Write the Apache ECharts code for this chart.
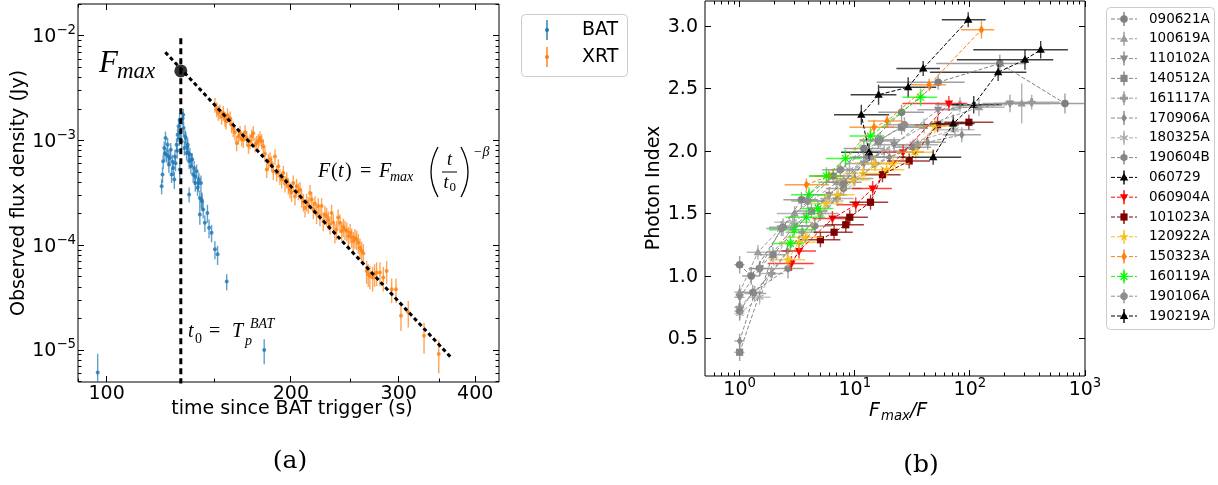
<!DOCTYPE html>
<html><head><meta charset="utf-8">
<script src="https://cdn.jsdelivr.net/npm/echarts@6/dist/echarts.min.js"></script>
<style>html,body{margin:0;padding:0;background:#fff}#c{width:1218px;height:485px}</style>
</head><body><div id="c"></div><script>
// ---------------- LEFT PANEL DATA: [time (s), flux (Jy), flux error] ----------------
const batData = [
[96.7,6.1e-6,3.1e-6],[123.0,3.67e-4,6e-5],[123.4,4.74e-4,8e-5],[123.7,6.35e-4,1.0e-4],[124.2,8.5e-4,1.3e-4],
[124.5,7.6e-4,1.2e-4],[124.8,1.06e-3,1.6e-4],[125.3,7.36e-4,1.2e-4],[125.8,9.16e-4,1.4e-4],[126.1,7.07e-4,1.1e-4],
[126.4,5.9e-4,1.0e-4],[126.9,6.84e-4,1.1e-4],[127.3,8.2e-4,1.3e-4],[127.7,4.74e-4,8e-5],[128.1,6.3e-4,1.0e-4],
[128.5,5.49e-4,9e-5],[129.0,4.25e-4,8e-5],[129.3,7.07e-4,1.1e-4],[129.6,6.1e-4,1.0e-4],[130.1,9.16e-4,1.4e-4],
[130.4,8.0e-4,1.3e-4],[130.6,1.14e-3,1.7e-4],[131.1,1.37e-3,2.0e-4],[131.4,1.05e-3,1.6e-4],[131.6,1.58e-3,2.3e-4],
[131.7,5.3e-4,9e-5],[132.1,1.23e-3,1.8e-4],[132.6,9.86e-4,1.5e-4],[133.1,1.64e-3,2.4e-4],[133.4,1.77e-3,2.5e-4],
[133.6,1.32e-3,2.0e-4],[134.0,8.5e-4,1.3e-4],[134.3,1.1e-3,1.6e-4],[134.7,1.06e-3,1.6e-4],[135.1,7.64e-4,1.2e-4],
[135.4,8.8e-4,1.3e-4],[135.7,9.16e-4,1.4e-4],[136.0,7.64e-4,1.2e-4],[136.4,6.35e-4,1.0e-4],[136.4,3.06e-4,5e-5],
[136.8,7.36e-4,1.2e-4],[137.3,5.69e-4,9e-5],[137.6,6.6e-4,1.0e-4],[138.0,6.6e-4,1.0e-4],[138.5,4.74e-4,8e-5],
[139.0,5.49e-4,9e-5],[139.4,4.57e-4,8e-5],[139.6,3.95e-4,7e-5],[140.3,5.1e-4,8e-5],[140.8,3.55e-4,6e-5],
[141.2,3.95e-4,7e-5],[141.5,4.25e-4,7e-5],[142.0,2.84e-4,5e-5],[142.0,1.97e-4,4e-5],[142.6,3.95e-4,7e-5],
[142.9,2.74e-4,5e-5],[143.2,2.64e-4,5e-5],[143.8,2.2e-4,4e-5],[144.7,1.64e-4,3e-5],[146.1,2.04e-4,4e-5],
[147.0,1.47e-4,3e-5],[148.4,1.32e-4,2.5e-5],[150.3,9.16e-5,1.8e-5],[151.8,8.2e-5,1.7e-5],[157.1,4.51e-5,8e-6],
[180.9,1.0e-5,2.7e-6]
];
const xrtData = [
[150.3,2.2e-3,3.5e-4],[151.3,2.0e-3,3.2e-4],[152.2,1.85e-3,3e-4],[153.1,1.9e-3,3e-4],[154.1,1.7e-3,2.8e-4],
[155.1,1.84e-3,3e-4],[156.1,1.62e-3,2.6e-4],[156.7,1.53e-3,2.5e-4],[157.6,1.75e-3,2.8e-4],[159.1,1.64e-3,2.6e-4],
[160.0,1.42e-3,2.4e-4],[161.0,1.3e-3,2.2e-4],[162.0,1.2e-3,2e-4],[163.1,9.5e-4,1.6e-4],[164.2,1.1e-3,1.8e-4],
[165.2,1.18e-3,2e-4],[166.2,1.05e-3,1.7e-4],[167.2,1.02e-3,1.7e-4],[168.3,1.2e-3,2e-4],[169.4,1.06e-3,1.7e-4],
[170.5,9.0e-4,1.5e-4],[171.5,9.85e-4,1.6e-4],[172.6,1.1e-3,1.8e-4],[173.6,1.18e-3,1.9e-4],[174.8,9.2e-4,1.5e-4],
[175.9,9.5e-4,1.6e-4],[177.0,1.0e-3,1.6e-4],[178.1,1.06e-3,1.7e-4],[179.2,9.86e-4,1.6e-4],[180.3,8.83e-4,1.5e-4],
[181.4,7.5e-4,1.3e-4],[182.6,5.3e-4,9e-5],[183.7,6.3e-4,1.1e-4],[184.9,6.6e-4,1.1e-4],[186.0,6.1e-4,1.0e-4],
[187.2,5.1e-4,9e-5],[188.4,7.07e-4,1.2e-4],[189.6,4.9e-4,8.5e-5],[190.8,5.69e-4,9.5e-5],[191.9,4.57e-4,8e-5],
[193.2,4.25e-4,7.5e-5],[194.4,4.9e-4,8.5e-5],[195.6,3.9e-4,7e-5],[196.9,4.25e-4,7.5e-5],[198.1,3.7e-4,6.5e-5],
[199.3,3.41e-4,6e-5],[200.5,3.2e-4,6e-5],[201.8,3.95e-4,7e-5],[203.1,2.95e-4,5.5e-5],[204.3,3.67e-4,6.5e-5],
[205.7,3.3e-4,6e-5],[207.0,3.41e-4,6e-5],[208.3,2.84e-4,5.5e-5],[209.6,2.6e-4,5e-5],[210.9,2.29e-4,4.5e-5],
[212.2,2.6e-4,5e-5],[213.6,2.45e-4,4.5e-5],[214.9,3.17e-4,6e-5],[216.3,2.74e-4,5e-5],[217.6,2.2e-4,4.2e-5],
[219.0,2.5e-4,4.5e-5],[220.3,2.0e-4,4e-5],[221.7,2.37e-4,4.5e-5],[223.1,1.9e-4,3.8e-5],[224.5,2.37e-4,4.5e-5],
[225.9,1.71e-4,3.5e-5],[227.3,1.97e-4,4e-5],[228.8,1.9e-4,3.8e-5],[230.2,1.75e-4,3.5e-5],[231.7,1.58e-4,3.2e-5],
[233.1,2.04e-4,4e-5],[234.6,1.64e-4,3.3e-5],[236.0,1.32e-4,2.8e-5],[237.5,1.42e-4,3e-5],[238.9,1.84e-4,3.6e-5],
[240.6,1.64e-4,3.3e-5],[242.1,1.37e-4,2.8e-5],[243.6,1.5e-4,3e-5],[245.1,1.42e-4,3e-5],[246.8,1.37e-4,2.8e-5],
[248.3,1.23e-4,2.6e-5],[249.9,1.32e-4,2.8e-5],[251.4,1.2e-4,2.5e-5],[252.9,1.1e-4,2.4e-5],[254.5,1.18e-4,2.5e-5],
[256.1,1.14e-4,2.4e-5],[257.7,1.06e-4,2.3e-5],[259.3,9.5e-5,2.1e-5],[260.9,8.86e-5,2e-5],[262.6,8.4e-5,1.9e-5],
[265.9,5.69e-5,1.4e-5],[267.5,5.3e-5,1.3e-5],[269.2,5.1e-5,1.3e-5],[272.0,4.92e-5,1.3e-5],[274.0,5.3e-5,1.3e-5],
[276.1,5.49e-5,1.4e-5],[279.6,5.49e-5,1.4e-5],[283.1,4.92e-5,1.3e-5],[286.7,5.69e-5,1.4e-5],[292.2,3.81e-5,1.0e-5],
[297.0,3.81e-5,1.0e-5],[302.6,2.12e-5,6e-6],[311.0,2.29e-5,6.5e-6],[330.0,1.37e-5,4.5e-6],[348.8,9.16e-6,3.2e-6]
];
const fmaxPoint = [[132.2, 4.64e-3]];
const t0Line = [[132.2, 9.5e-3], [132.2, 4.0e-6]];
const fitLine = [[124.7, 7.0e-3], [366.3, 8.34e-6]];
const leftXTicks = [100, 200, 300, 400];
const leftXTickLabels = ['100', '200', '300', '400'];
const leftXMinorTicks = [90, 150, 250, 350];
const leftYTicks = [1e-5, 1e-4, 1e-3, 1e-2];
const leftYTickExp = ['\u22125', '\u22124', '\u22123', '\u22122'];

// ---------------- RIGHT PANEL DATA: [Fmax/F, photon index, x low, x high, index error] ----------------
const d090621A = [[1.0,1.09,0.9,1.1,0.07],[1.26,1.00,1.05,1.5,0.07],[2.38,1.39,1.8,3.1,0.07],[3.44,1.61,2.4,4.8,0.06],[6.5,1.80,4.5,9.5,0.06],[12,2.02,8,18,0.06],[25.5,2.31,16,40,0.06],[53,2.55,15.5,90,0.06],[182,2.70,51,310,0.07],[670,2.38,400,1100,0.08]];
const d100619A = [[1.0,0.87,0.9,1.1,0.06],[1.44,1.19,1.15,1.8,0.06],[3.0,1.50,2.1,4.3,0.06],[7.0,1.75,4.8,10,0.06],[14,1.95,9.5,21,0.06],[40,2.20,26,62,0.06],[120,2.35,70,200,0.07],[282,2.38,160,500,0.16]];
const d110102A = [[1.0,0.83,0.9,1.1,0.06],[1.5,1.06,1.2,1.9,0.06],[3.0,1.40,2.1,4.2,0.06],[6.0,1.65,4.2,8.6,0.06],[12,1.90,8.2,17.5,0.06],[22,2.05,15,32,0.06],[53,2.33,35,80,0.06],[223,2.38,130,400,0.07]];
const d140512A = [[1.0,0.39,0.9,1.1,0.07],[1.95,1.17,1.5,2.5,0.06],[4.2,1.52,3.0,5.8,0.06],[8.0,1.75,5.5,11.5,0.06],[16,2.08,11,23,0.06],[25.5,2.19,17,38,0.06]];
const d161117A = [[1.0,0.75,0.9,1.1,0.06],[1.89,1.02,1.5,2.4,0.06],[3.5,1.35,2.5,4.9,0.06],[7.0,1.62,5.0,9.8,0.06],[15,1.90,10,22,0.06],[35,2.05,23,53,0.06],[82,2.37,50,135,0.06],[344,2.39,200,600,0.06]];
const d170906A = [[1.0,0.48,0.9,1.1,0.06],[1.35,0.86,1.1,1.7,0.06],[2.6,1.20,1.9,3.5,0.06],[5.0,1.50,3.5,7.2,0.06],[10,1.78,7,14.5,0.06],[20,1.95,14,29,0.06],[43,2.07,30,62,0.06],[85,2.13,58,125,0.06]];
const d180325A = [[1.0,0.70,0.9,1.1,0.06],[1.49,0.83,1.2,1.85,0.06],[2.9,1.43,2.0,4.2,0.06],[5.5,1.60,3.8,8.0,0.06],[9.0,1.85,6.2,13,0.06],[18,2.00,12.5,26,0.06],[74,2.17,50,110,0.06]];
const d190604B = [[1.0,0.72,0.9,1.1,0.07],[1.3,0.87,1.05,1.6,0.06],[2.63,1.06,1.9,3.6,0.08],[4.5,1.40,3.2,6.3,0.06],[8.0,1.70,5.6,11.5,0.06],[13,1.95,9,19,0.06],[32,2.03,22,46,0.06]];
const d060729 = [[13.3,1.99,7.6,17.1,0.07],[11.4,2.29,6.6,19.9,0.08],[16.1,2.45,9.2,23,0.08],[29.1,2.51,16.3,51,0.08],[39.3,2.66,23,55,0.06],[96.7,3.05,57,137,0.06]];
const d060904A = [[2.82,1.10,1.75,4.4,0.06],[3.28,1.20,2.3,4.6,0.06],[6.4,1.46,4.3,9.3,0.06],[10.2,1.57,7.0,14.5,0.06],[14.3,1.70,9.5,21,0.06],[26.3,1.99,17,40,0.06],[65.7,2.38,26,95,0.06]];
const d101023A = [[5.03,1.29,3.3,7.5,0.06],[6.61,1.35,4.4,9.6,0.06],[8.35,1.41,5.5,12,0.06],[9.05,1.47,6.2,13,0.06],[13.7,1.59,9.0,19.5,0.06],[17.4,1.81,11.5,25,0.06],[29.7,1.92,19,45,0.06],[52.4,2.21,33,80,0.06],[98,2.23,60,160,0.06]];
const d120922A = [[2.63,1.13,1.8,3.7,0.06],[3.28,1.27,2.2,4.6,0.06],[3.75,1.31,2.5,5.3,0.06],[5.6,1.58,3.8,7.9,0.06],[7.16,1.65,4.9,10,0.06],[9.68,1.77,6.5,13.5,0.06],[11.8,1.82,8.0,16.5,0.06],[14.9,1.90,10,21,0.06],[18.9,1.85,12.5,27,0.06],[21.5,1.90,14.5,30,0.06],[33.9,1.99,23,48,0.06],[49.6,2.20,33,70,0.06]];
const d150323A = [[3.80,1.73,2.46,5.98,0.05],[5.94,1.80,4.0,8.0,0.05],[14.7,2.19,9.0,22,0.06],[19.1,2.24,13,26,0.05],[44.3,2.53,30,62,0.05],[126,2.97,83.5,163,0.07]];
const d160119A = [[2.76,1.26,1.9,3.6,0.06],[2.97,1.37,1.8,4.6,0.06],[3.80,1.47,2.5,5.5,0.06],[4.8,1.54,3.4,6.5,0.06],[4.0,1.65,2.8,5.6,0.06],[5.67,1.80,4.0,7.8,0.07],[8.3,1.94,5.6,11.5,0.07],[13.7,2.12,9.0,18,0.07],[37.3,2.43,26,52,0.07]];
const d190106A = [[1.49,1.06,1.2,1.85,0.06],[2.3,1.38,1.7,3.1,0.06],[3.9,1.60,2.8,5.4,0.06],[7.5,1.85,5.2,10.8,0.06],[16.6,2.09,11,25,0.06],[27,2.21,18,40,0.06]];
const d190219A = [[48,1.95,25,84,0.06],[71.6,2.22,45,110,0.07],[108,2.37,69,190,0.07],[176,2.63,45,310,0.07],[301,2.73,77,530,0.08],[412,2.81,107,710,0.07]];

const grbNames = ['090621A','100619A','110102A','140512A','161117A','170906A','180325A','190604B','060729','060904A','101023A','120922A','150323A','160119A','190106A','190219A'];
const grbSets = [d090621A,d100619A,d110102A,d140512A,d161117A,d170906A,d180325A,d190604B,d060729,d060904A,d101023A,d120922A,d150323A,d160119A,d190106A,d190219A];
const rightXTicks = [1, 10, 100, 1000];
const rightXTickExp = ['0', '1', '2', '3'];
const rightYTicks = [0.5, 1.0, 1.5, 2.0, 2.5, 3.0];
const rightYTickLabels = ['0.5', '1.0', '1.5', '2.0', '2.5', '3.0'];

// ---------------- STYLES ----------------
const grbColors = ['#7f7f7f','#9b9b9b','#8c8c8c','#868686','#999999','#8a8a8a','#ababab','#858585','#000000','#ff0000','#800000','#f5c21b','#ff7f0e','#00ff00','#8e8e8e','#000000'];
const grbMarkers = ['o','^','v','s','P','d','x6','h','^','v','s','*','d','a8','8','^'];
const LX = [89.8, 437.5], LY = [4.95e-6, 0.0202];
const RX = [0.5, 1000], RY = [0.2, 3.2];
const FONT = '"DejaVu Sans"';
const SERIF = '"Liberation Serif"';
const FS = 19, SUP = 13.3;

function markerEls(m, cx, cy, s, color) {
  const f = {fill: color};
  const r = s / 2;
  const poly = pts => ({type: 'polygon', shape: {points: pts}, style: f});
  const ln = (a, L) => ({type: 'line', shape: {x1: cx - Math.cos(a) * L, y1: cy - Math.sin(a) * L, x2: cx + Math.cos(a) * L, y2: cy + Math.sin(a) * L}, style: {stroke: color, lineWidth: 1.3}});
  const reg = (n, R, off) => { const p = []; for (let i = 0; i < n; i++) { const a = off + i * 2 * Math.PI / n; p.push([cx + R * Math.cos(a), cy + R * Math.sin(a)]); } return p; };
  switch (m) {
    case 'o': return [{type: 'circle', shape: {cx, cy, r: r * 0.95}, style: f}];
    case '^': return [poly([[cx, cy - r * 1.1], [cx - r * 1.05, cy + r * 0.75], [cx + r * 1.05, cy + r * 0.75]])];
    case 'v': return [poly([[cx, cy + r * 1.1], [cx - r * 1.05, cy - r * 0.75], [cx + r * 1.05, cy - r * 0.75]])];
    case 's': return [{type: 'rect', shape: {x: cx - r * 0.9, y: cy - r * 0.9, width: r * 1.8, height: r * 1.8}, style: f}];
    case 'd': return [poly([[cx, cy - r * 1.15], [cx + r * 0.7, cy], [cx, cy + r * 1.15], [cx - r * 0.7, cy]])];
    case 'h': return [poly(reg(6, r * 1.0, -Math.PI / 2))];
    case '8': return [poly(reg(8, r * 1.0, Math.PI / 8))];
    case 'P': { const w = r * 0.38, L = r * 1.0; return [poly([[cx - w, cy - L], [cx + w, cy - L], [cx + w, cy - w], [cx + L, cy - w], [cx + L, cy + w], [cx + w, cy + w], [cx + w, cy + L], [cx - w, cy + L], [cx - w, cy + w], [cx - L, cy + w], [cx - L, cy - w], [cx - w, cy - w]])]; }
    case '*': { const p = []; for (let i = 0; i < 10; i++) { const a = -Math.PI / 2 + i * Math.PI / 5; const R = i % 2 ? r * 0.5 : r * 1.25; p.push([cx + R * Math.cos(a), cy + R * Math.sin(a)]); } return [poly(p)]; }
    case 'x6': return [ln(Math.PI / 2, r * 1.1), ln(Math.PI / 6, r * 1.1), ln(5 * Math.PI / 6, r * 1.1)];
    case 'a8': return [ln(0, r * 1.2), ln(Math.PI / 4, r * 1.2), ln(Math.PI / 2, r * 1.2), ln(3 * Math.PI / 4, r * 1.2)];
  }
  return [];
}

function errYRender(color) {
  return function (params, api) {
    const x = api.value(0), y = api.value(1), e = api.value(2);
    const p1 = api.coord([x, Math.max(y - e, 1e-9)]), p2 = api.coord([x, y + e]);
    return {type: 'line', shape: {x1: p1[0], y1: p1[1], x2: p2[0], y2: p2[1]}, style: {stroke: color, lineWidth: 1.4, opacity: 0.7}};
  };
}
function grbRender(color, marker) {
  return function (params, api) {
    const x = api.value(0), y = api.value(1), xl = api.value(2), xh = api.value(3), dy = api.value(4);
    const c = api.coord([x, y]), a = api.coord([xl, y]), b = api.coord([xh, y]);
    const u = api.coord([x, y + dy]), d = api.coord([x, y - dy]);
    const es = {stroke: color, lineWidth: 1.4, opacity: 0.75};
    return {type: 'group', children: [
      {type: 'line', shape: {x1: a[0], y1: a[1], x2: b[0], y2: b[1]}, style: es},
      {type: 'line', shape: {x1: u[0], y1: u[1], x2: d[0], y2: d[1]}, style: es}
    ].concat(markerEls(marker, c[0], c[1], 8, color))};
  };
}

const hiddenAxis = {axisLine: {show: false}, axisTick: {show: false}, axisLabel: {show: false}, splitLine: {show: false}};
const series = [
  {type: 'custom', xAxisIndex: 0, yAxisIndex: 0, data: batData, renderItem: errYRender('#1f77b4'), clip: true, encode: {x: 0, y: 1}},
  {type: 'scatter', xAxisIndex: 0, yAxisIndex: 0, data: batData, symbol: 'circle', symbolSize: 4, itemStyle: {color: '#1f77b4'}, encode: {x: 0, y: 1}},
  {type: 'custom', xAxisIndex: 0, yAxisIndex: 0, data: xrtData, renderItem: errYRender('#ff7f0e'), clip: true, encode: {x: 0, y: 1}},
  {type: 'scatter', xAxisIndex: 0, yAxisIndex: 0, data: xrtData, symbol: 'circle', symbolSize: 4, itemStyle: {color: '#ff7f0e'}, encode: {x: 0, y: 1}},
  {type: 'line', xAxisIndex: 0, yAxisIndex: 0, data: t0Line, showSymbol: false, lineStyle: {color: '#000', width: 3, type: [6, 4]}, clip: true},
  {type: 'line', xAxisIndex: 0, yAxisIndex: 0, data: fitLine, showSymbol: false, lineStyle: {color: '#000', width: 3, type: [4, 3]}, clip: true},
  {type: 'scatter', xAxisIndex: 0, yAxisIndex: 0, data: fmaxPoint, symbol: 'circle', symbolSize: 13, itemStyle: {color: '#000'}}
];
grbSets.forEach((d, i) => {
  series.push({type: 'line', xAxisIndex: 1, yAxisIndex: 1, data: d.map(p => [p[0], p[1]]), showSymbol: false,
    lineStyle: {color: grbColors[i], width: 1, type: [4, 2]}, clip: true});
  series.push({type: 'custom', xAxisIndex: 1, yAxisIndex: 1, data: d, renderItem: grbRender(grbColors[i], grbMarkers[i]), clip: true, encode: {x: 0, y: 1}});
});

const chart = echarts.init(document.getElementById('c'), null, {renderer: 'canvas'});
chart.setOption({
  animation: false,
  backgroundColor: '#fff',
  grid: [
    {left: 78, top: 4, width: 421, height: 378, show: true, borderColor: '#000', borderWidth: 1, backgroundColor: 'transparent'},
    {left: 705, top: 1, width: 380, height: 375, show: true, borderColor: '#000', borderWidth: 1, backgroundColor: 'transparent'}
  ],
  xAxis: [
    Object.assign({gridIndex: 0, type: 'log', logBase: 10, min: LX[0], max: LX[1]}, hiddenAxis),
    Object.assign({gridIndex: 1, type: 'log', logBase: 10, min: RX[0], max: RX[1]}, hiddenAxis)
  ],
  yAxis: [
    Object.assign({gridIndex: 0, type: 'log', logBase: 10, min: LY[0], max: LY[1]}, hiddenAxis),
    Object.assign({gridIndex: 1, type: 'value', min: RY[0], max: RY[1]}, hiddenAxis)
  ],
  series: series
});

// ---------------- ticks, labels, legends, annotations ----------------
const mctx = document.createElement('canvas').getContext('2d');
function tw(t, size, fam, style) { mctx.font = (style || '') + ' ' + size + 'px ' + (fam || FONT); return mctx.measureText(t).width; }
const g = [];
function P(gi, v) { return chart.convertToPixel({gridIndex: gi}, v); }
function L(x1, y1, x2, y2, w, col, dash) { g.push({type: 'line', silent: true, z: 100, shape: {x1, y1, x2, y2}, style: {stroke: col || '#000', lineWidth: w || 1, lineDash: dash || null}}); }
function T(text, x, y, size, opts) {
  opts = opts || {};
  g.push({type: 'text', silent: true, z: 100, x, y, rotation: opts.rot || 0,
    style: {text, fontSize: size, fontFamily: opts.fam || FONT, fontStyle: opts.style || 'normal', fill: opts.color || '#000',
      align: opts.align || 'center', verticalAlign: opts.va || 'middle'}});
}
const rd = v => Math.round(v - 0.5) + 0.5;

// Left panel x ticks
leftXTicks.forEach((v, i) => {
  const b = P(0, [v, LY[0]]), t = P(0, [v, LY[1]]); const x = rd(b[0]);
  L(x, b[1], x, b[1] - 6); L(x, t[1], x, t[1] + 6);
  T(leftXTickLabels[i], b[0], b[1] + 12, FS);
});
leftXMinorTicks.forEach(v => {
  const b = P(0, [v, LY[0]]), t = P(0, [v, LY[1]]); const x = rd(b[0]);
  L(x, b[1], x, b[1] - 3.5); L(x, t[1], x, t[1] + 3.5);
});
// Left panel y ticks
leftYTicks.forEach((v, i) => {
  const l = P(0, [LX[0], v]), r = P(0, [LX[1], v]); const y = rd(l[1]);
  L(l[0], y, l[0] + 6, y); L(r[0], y, r[0] - 6, y);
  const xr = l[0] - 2, ws = tw(leftYTickExp[i], SUP);
  T(leftYTickExp[i], xr, l[1] - 5, SUP, {align: 'right'});
  T('10', xr - ws, l[1] + 1.5, FS, {align: 'right'});
});
for (let k = -6; k <= -2; k++) for (let m = 2; m <= 9; m++) {
  const v = m * Math.pow(10, k); if (v <= LY[0] || v >= LY[1]) continue;
  const l = P(0, [LX[0], v]), r = P(0, [LX[1], v]); const y = rd(l[1]);
  L(l[0], y, l[0] + 3.5, y); L(r[0], y, r[0] - 3.5, y);
}
// Right panel x ticks
rightXTicks.forEach((v, i) => {
  const b = P(1, [v, RY[0]]), t = P(1, [v, RY[1]]); const x = rd(b[0]);
  L(x, b[1], x, b[1] - 6); L(x, t[1], x, t[1] + 6);
  const wb = tw('10', FS), ws = tw(rightXTickExp[i], SUP), W = wb + ws;
  T('10', b[0] - W / 2, b[1] + 14, FS, {align: 'left'});
  T(rightXTickExp[i], b[0] - W / 2 + wb, b[1] + 7.5, SUP, {align: 'left'});
});
for (let k = -1; k <= 2; k++) for (let m = 2; m <= 9; m++) {
  const v = m * Math.pow(10, k); if (v <= RX[0] || v >= RX[1]) continue;
  const b = P(1, [v, RY[0]]), t = P(1, [v, RY[1]]); const x = rd(b[0]);
  L(x, b[1], x, b[1] - 3.5); L(x, t[1], x, t[1] + 3.5);
}
// Right panel y ticks
rightYTicks.forEach((v, i) => {
  const l = P(1, [RX[0], v]), r = P(1, [RX[1], v]); const y = rd(l[1]);
  L(l[0], y, l[0] + 6, y); L(r[0], y, r[0] - 6, y);
  T(rightYTickLabels[i], l[0] - 7, l[1] + 1, FS, {align: 'right'});
});

// Axis titles
T('Observed flux density (Jy)', 19, 193, FS, {rot: Math.PI / 2});
T('time since BAT trigger (s)', 292, 409, FS);
T('Photon Index', 654, 188, FS, {rot: Math.PI / 2});
const wF = tw('F', FS, FONT, 'italic'), wM = tw('max', SUP, FONT, 'italic');
T('F', 869, 411, FS, {align: 'left', style: 'italic'});
T('max', 869 + wF + 1, 417, SUP, {align: 'left', style: 'italic'});
T('/F', 869 + wF + 1 + wM, 411, FS, {align: 'left', style: 'italic'});
// Captions
T('(a)', 290, 461, 25, {fam: '"DejaVu Serif"'});
T('(b)', 921, 465, 25, {fam: '"DejaVu Serif"'});

// Left annotations (math text)
T('F', 99, 64, 31, {fam: SERIF, style: 'italic', align: 'left'});
T('max', 117, 72, 23, {fam: SERIF, style: 'italic', align: 'left'});
T('F', 318, 172, 20, {fam: SERIF, style: 'italic', align: 'left'});
T('(', 331, 172, 20, {fam: SERIF, align: 'left'});
T('t', 338, 172, 20, {fam: SERIF, style: 'italic', align: 'left'});
T(')', 345, 172, 20, {fam: SERIF, align: 'left'});
T('=', 360, 172, 20, {fam: SERIF, align: 'left'});
T('F', 379, 172, 20, {fam: SERIF, style: 'italic', align: 'left'});
T('max', 390, 177, 14, {fam: SERIF, style: 'italic', align: 'left'});
g.push({type: 'bezierCurve', silent: true, z: 100, shape: {x1: 438, y1: 147, x2: 438, y2: 197, cpx1: 424, cpy1: 172}, style: {stroke: '#000', lineWidth: 1.3, fill: null}});
g.push({type: 'bezierCurve', silent: true, z: 100, shape: {x1: 461, y1: 147, x2: 461, y2: 197, cpx1: 475, cpy1: 172}, style: {stroke: '#000', lineWidth: 1.3, fill: null}});
T('t', 449.5, 160, 18, {fam: SERIF, style: 'italic'});
L(442, 172, 457, 172, 1);
T('t', 446, 183, 18, {fam: SERIF, style: 'italic'});
T('0', 449.5, 188, 13, {fam: SERIF, align: 'left'});
T('\u2212\u03b2', 473, 152, 14, {fam: SERIF, style: 'italic', align: 'left'});
T('t', 188, 332, 20, {fam: SERIF, style: 'italic', align: 'left'});
T('0', 195, 339, 14, {fam: SERIF, align: 'left'});
T('=', 209, 332, 20, {fam: SERIF, align: 'left'});
T('T', 232, 332, 20, {fam: SERIF, style: 'italic', align: 'left'});
T('p', 245, 341, 14, {fam: SERIF, style: 'italic', align: 'left'});
T('BAT', 250, 324, 14, {fam: SERIF, style: 'italic', align: 'left'});

// Left legend
g.push({type: 'rect', silent: true, z: 99, shape: {x: 521.5, y: 14.5, width: 106, height: 62, r: 4}, style: {fill: 'rgba(255,255,255,0.8)', stroke: '#cccccc', lineWidth: 1}});
[['BAT', '#1f77b4', 30], ['XRT', '#ff7f0e', 57]].forEach(e => {
  L(547, e[2] - 10, 547, e[2] + 10, 1.4, e[1]);
  g.push({type: 'circle', silent: true, z: 101, shape: {cx: 547, cy: e[2], r: 2}, style: {fill: e[1]}});
  T(e[0], 582, e[2], FS, {align: 'left'});
});
// Right legend
g.push({type: 'rect', silent: true, z: 99, shape: {x: 1106.5, y: 7.5, width: 108, height: 322, r: 4}, style: {fill: 'rgba(255,255,255,0.8)', stroke: '#cccccc', lineWidth: 1}});
grbNames.forEach((n, i) => {
  const y = 19 + i * 19.8, c = grbColors[i];
  L(1111, y, 1137, y, 1, c, [4, 2]);
  L(1124, y - 7, 1124, y + 7, 1.4, c);
  markerEls(grbMarkers[i], 1124, y, 8, c).forEach(el => { el.silent = true; el.z = 101; g.push(el); });
  T(n, 1149, y, 13.5, {align: 'left'});
});

chart.setOption({graphic: {elements: g}});
</script></body></html>
